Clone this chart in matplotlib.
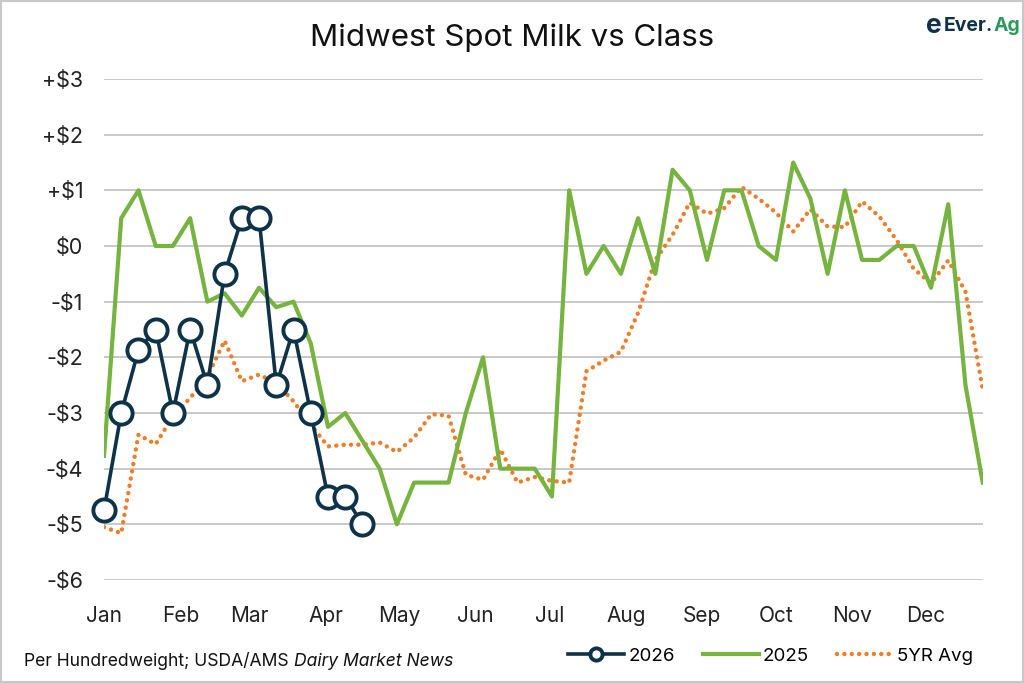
import matplotlib
matplotlib.use("Agg")
import matplotlib.pyplot as plt
from matplotlib.patches import Rectangle
import numpy as np

plt.rcParams['font.family'] = ['Inter', 'DejaVu Sans']

months = ["Jan", "Feb", "Mar", "Apr", "May", "Jun", "Jul", "Aug", "Sep", "Oct", "Nov", "Dec"]
month_days = [31, 28, 31, 30, 31, 30, 31, 31, 30, 31, 30, 31]
yticks = [3, 2, 1, 0, -1, -2, -3, -4, -5, -6]
ytick_labels = ["+$3", "+$2", "+$1", "$0", "-$1", "-$2", "-$3", "-$4", "-$5", "-$6"]

spot_2026 = [-4.75, -3.0, -1.87, -1.5, -3.0, -1.5, -2.5, -0.5, 0.5, 0.5,
             -2.5, -1.5, -3.0, -4.5, -4.5, -5.0]

spot_2025 = [-3.77, 0.5, 1.0, 0.0, 0.0, 0.5, -1.0, -0.85, -1.25, -0.75,
             -1.1, -1.0, -1.75, -3.25, -3.0, -3.5, -4.0, -5.0, -4.25, -4.25,
             -4.25, -3.0, -2.0, -4.0, -4.0, -4.0, -4.5, 1.0, -0.5, 0.0,
             -0.5, 0.5, -0.5, 1.37, 1.0, -0.25, 1.0, 1.0, 0.0, -0.25,
             1.5, 0.85, -0.5, 1.0, -0.25, -0.25, 0.0, 0.0, -0.75, 0.75,
             -2.5, -4.25]

avg_5yr = [-5.05, -5.16, -3.39, -3.56, -3.06, -2.73, -2.35, -1.70, -2.43, -2.31,
           -2.46, -2.79, -3.21, -3.60, -3.57, -3.57, -3.53, -3.70, -3.44, -3.02,
           -3.05, -4.11, -4.20, -3.65, -4.25, -4.15, -4.22, -4.25, -2.25, -2.06,
           -1.90, -1.20, -0.25, 0.20, 0.78, 0.58, 0.68, 1.06, 0.85, 0.60,
           0.26, 0.66, 0.35, 0.34, 0.80, 0.53, 0.11, -0.41, -0.67, -0.26,
           -0.82, -2.58]

NAVY = "#0e3349"
GREEN = "#77b43f"
ORANGE = "#f07d28"
GRID = "#c9c9c9"

fig = plt.figure(figsize=(10.24, 6.83), dpi=100)
ax = fig.add_axes([104/1024, 1 - 580/683, (982.7 - 104)/1024, (580 - 79)/683])

w25 = np.arange(len(spot_2025))
w26 = np.arange(len(spot_2026))
wav = np.arange(len(avg_5yr))

h_avg, = ax.plot(wav, avg_5yr, color=ORANGE, lw=3.2, linestyle=(0, (0.01, 1.65)),
                 dash_capstyle='round', label="5YR Avg", zorder=2)
h_25, = ax.plot(w25, spot_2025, color=GREEN, lw=3.0, label="2025", zorder=3)
h_26, = ax.plot(w26, spot_2026, color=NAVY, lw=2.6, marker='o', markersize=16,
                markerfacecolor='white', markeredgecolor=NAVY, markeredgewidth=2.8,
                label="2026", zorder=4, clip_on=False)

ax.set_xlim(0, len(spot_2025) - 1)
ax.set_ylim(-6, 3)
ax.set_yticks(yticks)
ax.set_yticklabels(ytick_labels, fontsize=15.5, color="#222222")
month_pos = np.concatenate([[0], np.cumsum(month_days)[:-1]]) / 7.0
ax.set_xticks(month_pos)
ax.set_xticklabels(months, fontsize=15, color="#222222")
ax.tick_params(axis='both', length=0)
ax.tick_params(axis='y', pad=15)
ax.tick_params(axis='x', pad=19)
ax.grid(axis='y', color=GRID, lw=1.4)
ax.set_axisbelow(True)
for s in ax.spines.values():
    s.set_visible(False)

fig.text(0.5, 1 - 38/683, "Midwest Spot Milk vs Class", ha='center', va='center',
         fontsize=22.5, color="#111111")

fig.canvas.draw()
r = fig.canvas.get_renderer()

# Logo
ly = 1 - 26/683
fig.text(926/1024, ly, "e", ha='left', va='center', fontsize=19,
         fontweight='bold', color=NAVY)
t1 = fig.text(944/1024, ly, "Ever.", ha='left', va='center', fontsize=14,
              fontweight='bold', color=NAVY)
bb1 = t1.get_window_extent(renderer=r)
fig.text((bb1.x1 + 0.5) / 1024, ly, "Ag", ha='left', va='center', fontsize=14,
         fontweight='bold', color="#2a9a5a")

# Footer
fy = 1 - 661/683
t2 = fig.text(24/1024, fy, "Per Hundredweight; USDA/AMS ", ha='left', va='center',
              fontsize=12.6, color="#111111")
bb2 = t2.get_window_extent(renderer=r)
fig.text(bb2.x1 / 1024, fy, "Dairy Market News", ha='left', va='center',
         fontsize=12.6, style='italic', color="#111111")

leg = fig.legend(handles=[h_26, h_25, h_avg], labels=["2026", "2025", "5YR Avg"],
                 loc='center right', bbox_to_anchor=(990/1024, 1 - 656/683), ncol=3,
                 frameon=False, fontsize=13.5, handlelength=3.0, columnspacing=1.5,
                 handletextpad=0.2, markerscale=0.55)

fig.patches.append(Rectangle((0, 0), 1, 1, transform=fig.transFigure, fill=False,
                             edgecolor="#c8c8c8", lw=3))

fig.savefig("out.png", dpi=100)
